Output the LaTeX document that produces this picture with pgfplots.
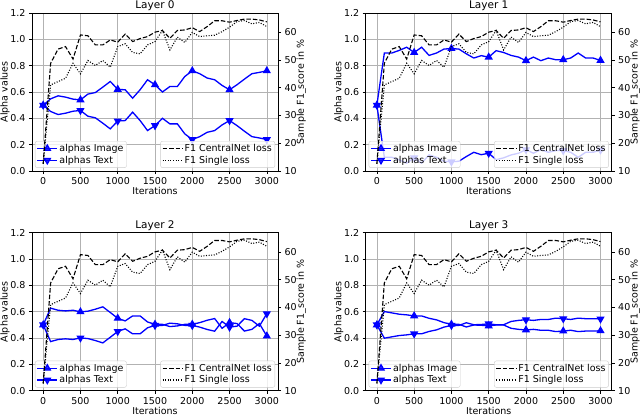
\documentclass[border=0pt]{standalone}
\usepackage{pgfplots}
\pgfplotsset{compat=1.18}
\usepackage{pgfplotstable}
\usepackage{fontspec}
\setmainfont{DejaVu Sans}

\pgfplotstableread{
it cn single
0 12.6 12.6
100 48.8 41.0
200 53.9 42.2
300 54.8 43.4
400 50.3 48.8
500 59.0 45.0
600 58.7 49.8
700 55.4 48.0
800 55.4 49.8
900 57.2 47.4
1000 56.4 54.8
1100 59.3 55.8
1200 56.6 52.7
1300 57.7 52.2
1400 58.4 55.4
1500 60.0 56.6
1600 60.6 60.6
1700 57.8 53.6
1800 60.6 58.2
1900 60.8 56.3
2000 61.6 59.9
2100 60.2 58.4
2200 62.0 58.7
2300 64.1 58.9
2400 64.1 60.2
2500 63.6 61.8
2600 64.2 63.8
2700 64.7 64.2
2800 64.7 63.0
2900 64.4 63.5
3000 63.7 62.0
}\fone

\pgfplotstableread{
it img txt
0 0.500 0.500
100 0.548 0.452
200 0.571 0.429
300 0.561 0.439
400 0.546 0.454
500 0.540 0.460
600 0.584 0.416
700 0.596 0.404
800 0.637 0.363
900 0.680 0.320
1000 0.620 0.380
1100 0.617 0.383
1200 0.553 0.447
1300 0.617 0.383
1400 0.693 0.307
1500 0.655 0.345
1600 0.600 0.400
1700 0.642 0.358
1800 0.642 0.358
1900 0.718 0.282
2000 0.761 0.239
2100 0.739 0.261
2200 0.706 0.294
2300 0.693 0.307
2400 0.650 0.350
2500 0.617 0.383
2600 0.655 0.345
2700 0.698 0.302
2800 0.739 0.261
2900 0.749 0.251
3000 0.761 0.239
}\layerA

\pgfplotstableread{
it img txt
0 0.500 0.500
100 0.896 0.104
200 0.896 0.104
300 0.916 0.084
400 0.940 0.060
500 0.900 0.100
600 0.940 0.060
700 0.878 0.122
800 0.896 0.104
900 0.926 0.074
1000 0.930 0.070
1100 0.926 0.074
1200 0.890 0.110
1300 0.858 0.142
1400 0.876 0.124
1500 0.865 0.135
1600 0.914 0.086
1700 0.900 0.100
1800 0.878 0.122
1900 0.865 0.135
2000 0.838 0.162
2100 0.865 0.135
2200 0.838 0.162
2300 0.858 0.142
2400 0.845 0.155
2500 0.845 0.155
2600 0.858 0.142
2700 0.896 0.104
2800 0.858 0.142
2900 0.858 0.142
3000 0.840 0.160
}\layerB

\pgfplotstableread{
it img txt
0 0.500 0.500
100 0.627 0.373
200 0.611 0.389
300 0.606 0.394
400 0.611 0.389
500 0.599 0.401
600 0.604 0.396
700 0.619 0.381
800 0.637 0.363
900 0.594 0.406
1000 0.550 0.450
1100 0.530 0.470
1200 0.568 0.432
1300 0.568 0.432
1400 0.522 0.478
1500 0.504 0.496
1600 0.504 0.496
1700 0.487 0.513
1800 0.492 0.508
1900 0.504 0.496
2000 0.504 0.496
2100 0.517 0.483
2200 0.535 0.465
2300 0.548 0.452
2400 0.474 0.526
2500 0.517 0.483
2600 0.510 0.490
2700 0.453 0.547
2800 0.466 0.534
2900 0.510 0.490
3000 0.415 0.585
}\layerC

\pgfplotstableread{
it img txt
0 0.500 0.500
100 0.601 0.399
200 0.591 0.409
300 0.581 0.419
400 0.576 0.424
500 0.568 0.432
600 0.568 0.432
700 0.550 0.450
800 0.538 0.462
900 0.517 0.483
1000 0.504 0.496
1100 0.504 0.496
1200 0.484 0.516
1300 0.499 0.501
1400 0.497 0.503
1500 0.492 0.508
1600 0.499 0.501
1700 0.499 0.501
1800 0.474 0.526
1900 0.466 0.534
2000 0.461 0.539
2100 0.466 0.534
2200 0.459 0.541
2300 0.459 0.541
2400 0.449 0.551
2500 0.453 0.547
2600 0.459 0.541
2700 0.449 0.551
2800 0.453 0.547
2900 0.453 0.547
3000 0.455 0.545
}\layerD

\pgfplotsset{
  common/.style={
    scale only axis, width=246pt, height=158pt,
    anchor=south west,
    xmin=-150, xmax=3150,
    font=\fontsize{9.5}{11}\selectfont,
    /pgf/number format/assume math mode=true,
    /pgf/number format/1000 sep={},
    tick align=outside,
    major tick length=3pt,
    tick style={black, line width=0.6pt},
    axis line style={black, line width=0.6pt},
    legend cell align=left,
    legend style={draw=black!20, rounded corners=2pt, fill=white, fill opacity=0.8, text opacity=1,
      font=\fontsize{9.5}{11}\selectfont, inner sep=1.5pt, row sep=0pt,
      nodes={inner sep=1.5pt}},
  },
  base/.style={
    common,
    ymin=0, ymax=1.2,
    xtick={0,500,1000,1500,2000,2500,3000},
    ytick={0,0.2,0.4,0.6,0.8,1.0,1.2},
    yticklabel style={/pgf/number format/.cd, fixed, fixed zerofill, precision=1},
    tick pos=left,
    grid=major,
    grid style={black!30, line width=0.6pt},
    xlabel={Iterations}, ylabel={Alpha values},
    xlabel style={at={(axis description cs:0.5,-0.128)}, anchor=center},
    ylabel style={at={(axis description cs:-0.11,0.5)}, anchor=center},
    every axis title shift=0pt,
    title style={font=\fontsize{10.5}{12}\selectfont, at={(axis description cs:0.5,1)}, anchor=base, yshift=4pt},
    legend style={at={(0.012,0.02)}, anchor=south west},
  },
  twin/.style={
    common,
    ymin=10, ymax=66.9,
    axis y line*=right, axis x line=none,
    ytick={10,20,30,40,50,60},
    ylabel={Sample F1\_score in \%},
    ylabel style={at={(axis description cs:1.095,0.5)}, anchor=center, rotate=0},
    legend style={at={(0.988,0.02)}, anchor=south east},
  },
  blueimg/.style={blue, line width=1.3pt, mark=triangle*, mark size=3.5pt, mark repeat=5, mark options={solid},
    legend image code/.code={\draw[mark repeat=2, mark phase=2] plot coordinates {(0pt,0pt) (10pt,0pt) (20pt,0pt)};}},
  bluetxt/.style={blue, line width=1.3pt, mark=triangle*, mark size=3.5pt, mark repeat=5, mark options={solid, rotate=180},
    legend image code/.code={\draw[mark repeat=2, mark phase=2] plot coordinates {(0pt,0pt) (10pt,0pt) (20pt,0pt)};}},
  cnline/.style={black, line width=1.1pt, dash pattern=on 4.5pt off 2pt,
    legend image code/.code={\draw (0pt,0pt) -- (20pt,0pt);}},
  sgline/.style={black, line width=1.1pt, dash pattern=on 1pt off 1.6pt,
    legend image code/.code={\draw (0pt,0pt) -- (20pt,0pt);}},
}

\newcommand{\panel}[4]{%
  \begin{axis}[base, at={(#1,#2)}, title={#3}]
    \addplot[blueimg] table[x=it, y=img] {#4};
    \addlegendentry{alphas Image}
    \addplot[bluetxt] table[x=it, y=txt] {#4};
    \addlegendentry{alphas Text}
  \end{axis}
  \begin{axis}[twin, at={(#1,#2)}]
    \addplot[cnline] table[x=it, y=cn] {\fone};
    \addlegendentry{F1 CentralNet loss}
    \addplot[sgline] table[x=it, y=single] {\fone};
    \addlegendentry{F1 Single loss}
  \end{axis}%
}

\begin{document}
\begin{tikzpicture}
\useasboundingbox (0,0) rectangle (640pt,416pt);
\panel{32pt}{245pt}{Layer 0}{\layerA}
\panel{365.7pt}{245pt}{Layer 1}{\layerB}
\panel{32pt}{25.3pt}{Layer 2}{\layerC}
\panel{365.7pt}{25.3pt}{Layer 3}{\layerD}
\end{tikzpicture}
\end{document}
